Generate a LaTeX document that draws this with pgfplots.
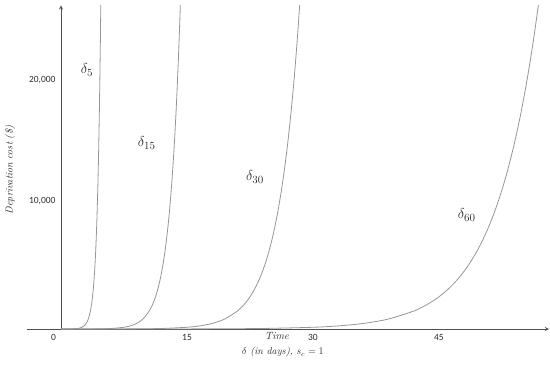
\documentclass[border=0pt]{standalone}
\usepackage{pgfplots}
\pgfplotsset{compat=1.18}
\usepackage{pgfplotstable}
\usepackage{fontspec}
\newfontfamily\tickfont{Carlito}
\definecolor{curvegray}{RGB}{150,150,150}
\definecolor{axisgray}{RGB}{80,80,80}
\definecolor{labelgray}{RGB}{45,45,45}

% columns: time for delta=5, 15, 30, 60 ; deprivation cost
\pgfplotstableread{
x5 x15 x30 x60 y
0 0 0 0 0.4
0.5 1.5 3 6 1.29
1 3 6 12 4.15
1.5 4.5 9 18 13.4
2 6 12 24 43.1
2.5 7.5 15 30 139
2.75 8.25 16.5 33 249
3 9 18 36 447
3.25 9.75 19.5 39 803
3.5 10.5 21 42 1442
3.5625 10.6875 21.375 42.75 1669
3.625 10.875 21.75 43.5 1932
3.6875 11.0625 22.125 44.25 2236
3.75 11.25 22.5 45 2588
3.8125 11.4375 22.875 45.75 2996
3.875 11.625 23.25 46.5 3467
3.9375 11.8125 23.625 47.25 4013
4 12 24 48 4646
4.0625 12.1875 24.375 48.75 5378
4.125 12.375 24.75 49.5 6224
4.1875 12.5625 25.125 50.25 7205
4.25 12.75 25.5 51 8340
4.3125 12.9375 25.875 51.75 9653
4.375 13.125 26.25 52.5 11172
4.4375 13.3125 26.625 53.25 12932
4.5 13.5 27 54 14968
4.5625 13.6875 27.375 54.75 17326
4.625 13.875 27.75 55.5 20056
4.6875 14.0625 28.125 56.25 23215
4.75 14.25 28.5 57 26872
4.8125 14.4375 28.875 57.75 31104
}\costdata

\begin{document}
\begin{tikzpicture}
\begin{axis}[
  scale only axis,
  width=522pt, height=323.7pt,
  xmin=-4.05, xmax=58.1,
  ymin=0, ymax=26000,
  axis lines=middle,
  axis line style={draw=axisgray, line width=0.9pt},
  clip mode=individual,
  major tick length=0pt,
  xtick={-0.9,15,30,45},
  xticklabels={0,15,30,45},
  ytick={10280,20000},
  yticklabels={{10,000},{20,000}},
  scaled y ticks=false,
  /pgf/number format/assume math mode=true,
  ticklabel style={font=\tickfont\fontsize{9.5}{11}\selectfont, text=labelgray},
  xticklabel style={yshift=-1.5pt},
  yticklabel style={xshift=-2pt},
]
\addplot[curvegray, line width=0.8pt, smooth, no markers] table[x=x5, y=y] {\costdata};
\addplot[curvegray, line width=0.8pt, smooth, no markers] table[x=x15, y=y] {\costdata};
\addplot[curvegray, line width=0.8pt, smooth, no markers] table[x=x30, y=y] {\costdata};
\addplot[curvegray, line width=0.8pt, smooth, no markers] table[x=x60, y=y] {\costdata};

\node[font=\fontsize{15}{18}\selectfont, text=labelgray] at (axis cs:3.1,20800) {$\delta_{5}$};
\node[font=\fontsize{15}{18}\selectfont, text=labelgray] at (axis cs:10.2,14940) {$\delta_{15}$};
\node[font=\fontsize{15}{18}\selectfont, text=labelgray] at (axis cs:23.1,12210) {$\delta_{30}$};
\node[font=\fontsize{15}{18}\selectfont, text=labelgray] at (axis cs:48.3,9160) {$\delta_{60}$};

\node[font=\itshape\fontsize{10.5}{12}\selectfont, text=labelgray] at (axis cs:25.7,-600) {Time};
\node[font=\itshape\fontsize{10}{12}\selectfont, text=labelgray] at (axis cs:26.4,-1870) {$\delta$ (in days), $s_c = 1$};
\node[font=\itshape\fontsize{10}{12}\selectfont, text=labelgray, rotate=90] at (axis cs:-6.07,12770) {Deprivation cost (\$)};

\coordinate (ll) at (rel axis cs:0,0);
\end{axis}
\pgfresetboundingbox
\path (ll) ++(-27pt,-39pt) rectangle ++(550pt,368pt);
\end{tikzpicture}
\end{document}
